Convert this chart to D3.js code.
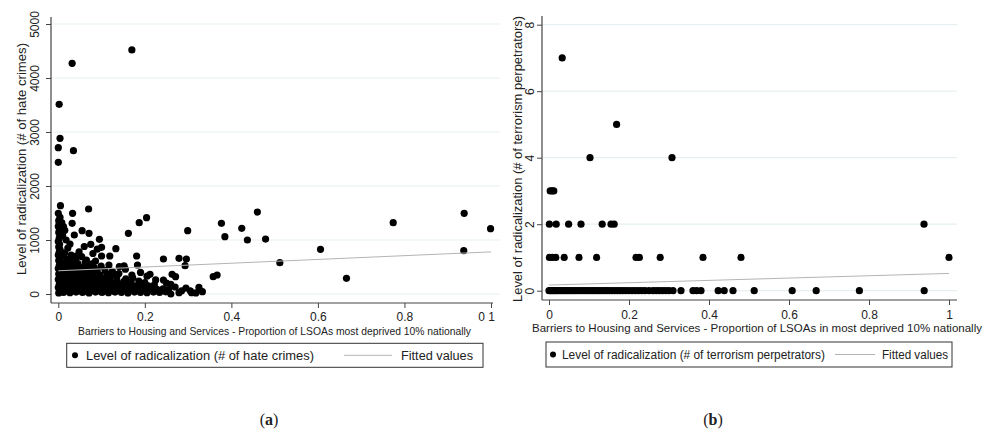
<!DOCTYPE html>
<html><head><meta charset="utf-8">
<script src="https://cdn.jsdelivr.net/npm/d3@7/dist/d3.min.js"></script>
<style>
body{margin:0;background:#fff}
svg{display:block}
text{font-family:"Liberation Sans",Arial,sans-serif;fill:#222}
</style></head>
<body><svg id="c" width="1003" height="443"></svg>
<script>
// ---------- DATA ----------
// Panel (a): [proportion of LSOAs most deprived, # hate crimes]
const hatePoints = [
 [0.002,3513],[0.032,4272],[0.17,4519],[0.004,2883],[0.0,2709],[0.035,2654],[0.0,2439],
 [0.005,1636],[0.0,1494],[0.033,1494],[0.07,1574],[0.032,1309],[0.055,1173],[0.071,1124],
 [0.095,1013],[0.037,1093],[0.1,865],[0.133,839],[0.162,1124],[0.187,1320],[0.204,1413],
 [0.299,1173],[0.075,920],[0.027,926],[0.054,691],[0.042,704],[0.086,611],[0.119,704],
 [0.1,704],[0.117,537],[0.181,704],[0.183,537],[0.243,648],[0.279,661],[0.296,648],
 [0.293,524],[0.141,506],[0.152,519],[0.212,364],[0.263,364],[0.271,321],[0.243,259],
 [0.26,180],[0.26,0],[0.279,25],[0.308,25],[0.325,124],[0.333,43],[0.358,320],[0.367,352],
 [0.377,1309],[0.385,1061],[0.424,1216],[0.437,1000],[0.46,1518],[0.479,1018],[0.512,580],
 [0.606,828],[0.666,290],[0.774,1320],[0.938,1494],[0.937,802],[0.999,1209],
 [0.001,20],[0.003,70],[0.0,120],[0.002,170],[0.004,220],[0.0,270],[0.003,320],[0.001,370],
 [0.004,420],[0.0,470],[0.002,520],[0.004,570],[0.001,620],[0.003,670],[0.0,720],[0.002,770],
 [0.004,820],[0.001,870],[0.003,920],[0.0,970],[0.002,1030],[0.004,1080],[0.001,1140],
 [0.003,1190],[0.0,1250],[0.002,1310],[0.001,1360],[0.004,1420],
 [0.012,1250],[0.015,1180],[0.01,1080],[0.018,1000],[0.008,1320],[0.009,1150],
 [0.012,30],[0.027,25],[0.041,35],[0.056,30],[0.071,20],[0.086,35],[0.101,30],[0.116,25],
 [0.131,35],[0.146,30],[0.161,20],[0.176,35],[0.19,30],[0.205,25],[0.22,35],[0.234,30],[0.248,40],
 [0.018,95],[0.033,100],[0.048,90],[0.063,95],[0.078,100],[0.093,90],[0.108,95],[0.123,100],
 [0.138,90],[0.153,95],[0.168,100],[0.183,90],[0.198,95],[0.213,105],[0.228,85],[0.242,95],
 [0.011,160],[0.026,165],[0.04,155],[0.055,160],[0.07,165],[0.085,155],[0.1,160],[0.115,165],
 [0.13,155],[0.145,160],[0.16,170],[0.175,150],[0.19,165],[0.208,150],[0.222,170],
 [0.016,225],[0.031,230],[0.046,220],[0.061,225],[0.076,230],[0.091,220],[0.106,225],
 [0.121,235],[0.136,215],[0.151,230],[0.168,220],[0.186,240],[0.2,210],
 [0.012,290],[0.027,295],[0.042,285],[0.057,290],[0.072,300],[0.087,285],[0.102,295],
 [0.118,290],[0.135,300],[0.156,280],[0.172,300],
 [0.018,360],[0.033,365],[0.048,355],[0.064,360],[0.08,370],[0.096,350],[0.113,365],[0.128,355],
 [0.011,430],[0.026,435],[0.041,425],[0.058,430],[0.074,440],[0.09,420],[0.108,435],
 [0.017,500],[0.032,505],[0.05,495],[0.066,510],[0.083,490],[0.099,515],
 [0.012,570],[0.028,575],[0.045,565],[0.062,580],[0.078,560],
 [0.02,640],[0.038,650],[0.065,630],[0.01,700],[0.03,720],
 [0.015,760],[0.048,780],[0.08,750],
 [0.022,850],[0.06,880],[0.09,830],
 [0.125,420],[0.14,380],[0.155,460],[0.17,350],[0.19,400],[0.205,330],[0.225,260],[0.25,200],
 [0.255,80],[0.27,130],[0.285,60],[0.295,110],[0.305,60],[0.318,20],
 [0.008,60],[0.022,60],[0.036,65],[0.05,60],[0.064,55],[0.08,65],[0.094,60],[0.11,60],[0.125,65],
 [0.008,195],[0.022,195],[0.036,190],[0.05,200],[0.064,195],[0.08,190],[0.094,200],
 [0.008,330],[0.022,325],[0.036,330],[0.05,325],[0.066,335],
 [0.006,540],[0.022,470],[0.036,470],[0.054,465],[0.04,610],[0.024,610]
];
const hateFit = [[0,430],[1,780]];

// Panel (b): [proportion, # terrorism perpetrators]
const terrPoints = [
 [0.033,7],[0.169,5],[0.1025,4],[0.3075,4],
 [0.003,3],[0.008,3],[0.012,3],
 [0.001,2],[0.018,2],[0.049,2],[0.08,2],[0.133,2],[0.155,2],[0.163,2],[0.9375,2],
 [0.001,1],[0.008,1],[0.017,1],[0.038,1],[0.075,1],[0.119,1],[0.2175,1],[0.226,1],
 [0.278,1],[0.385,1],[0.48,1],[1.0,1],
 [0,0],[0.004,0],[0.008,0],[0.012,0],[0.016,0],[0.02,0],[0.025,0],[0.03,0],[0.035,0],
 [0.04,0],[0.045,0],[0.05,0],[0.055,0],[0.06,0],[0.066,0],[0.072,0],[0.078,0],[0.084,0],
 [0.09,0],[0.096,0],[0.102,0],[0.108,0],[0.114,0],[0.12,0],[0.126,0],[0.132,0],[0.138,0],
 [0.144,0],[0.15,0],[0.157,0],[0.164,0],[0.171,0],[0.178,0],[0.185,0],[0.192,0],[0.2,0],
 [0.208,0],[0.216,0],[0.224,0],[0.232,0],[0.24,0],[0.25,0],[0.26,0],[0.268,0],[0.276,0],
 [0.284,0],[0.292,0],[0.3,0],[0.31,0],[0.33,0],[0.36,0],[0.369,0],[0.38,0],[0.423,0],
 [0.438,0],[0.46,0],[0.513,0],[0.608,0],[0.668,0],[0.776,0],[0.938,0]
];
const terrFit = [[0,0.17],[1,0.52]];

const xTicks = [0,0.2,0.4,0.6,0.8,1];
const xTickLabelsA = ["0","0.2","0.4","0.6","0.8","0 1"];
const xTickLabelsB = ["0","0.2","0.4","0.6","0.8","1"];
const yTicksA = [0,1000,2000,3000,4000,5000];
const yTicksB = [0,2,4,6,8];

// ---------- DRAW ----------
const svg = d3.select("#c");
const FONT = "'Liberation Sans',Arial,sans-serif";

function panel(o){
  const g = svg.append("g");
  const x = d3.scaleLinear().domain([0,1]).range([o.x0,o.x1]);
  const y = d3.scaleLinear().domain([0,o.yMax]).range([o.y0,o.yTop]);
  // grid
  g.selectAll("line.grid").data(o.yTicks).join("line")
    .attr("x1",o.axisX).attr("x2",o.gridRight)
    .attr("y1",d=>y(d)).attr("y2",d=>y(d))
    .attr("stroke","#e6eff2").attr("stroke-width",1.2);
  // y axis
  const ya = g.append("g").attr("transform",`translate(${o.axisX},0)`)
    .call(d3.axisLeft(y).tickValues(o.yTicks).tickSize(5).tickSizeOuter(0).tickFormat(d=>String(d)));
  ya.attr("font-family",FONT);
  ya.select(".domain").remove();
  ya.selectAll(".tick line").attr("stroke","#444");
  ya.selectAll(".tick text").attr("transform","rotate(-90)")
    .attr("x",0).attr("y",-o.yLabDist).attr("dy","0.35em")
    .style("text-anchor","middle").style("font-size","12px")
    .style("font-family",FONT).attr("fill","#222");
  g.append("line").attr("x1",o.axisX).attr("x2",o.axisX).attr("y1",o.axisTop).attr("y2",o.axisY)
    .attr("stroke","#444").attr("stroke-width",1.2);
  // x axis
  const xa = g.append("g").attr("transform",`translate(0,${o.axisY})`)
    .call(d3.axisBottom(x).tickValues(xTicks).tickSize(5).tickSizeOuter(0)
      .tickFormat((d,i)=>o.xLabels[i]));
  xa.attr("font-family",FONT);
  xa.select(".domain").remove();
  xa.selectAll(".tick line").attr("stroke","#444");
  xa.selectAll(".tick text").attr("y",o.xLabDist).attr("dy","0.35em")
    .attr("dx",(d,i)=>o.xLabels[i]==="0 1"?-5:0)
    .style("font-size","12px").style("font-family",FONT).attr("fill","#222");
  g.append("line").attr("x1",o.axisX).attr("x2",o.xAxisRight).attr("y1",o.axisY).attr("y2",o.axisY)
    .attr("stroke","#444").attr("stroke-width",1.2);
  // points
  g.selectAll("circle.pt").data(o.points).join("circle")
    .attr("cx",d=>x(d[0])).attr("cy",d=>y(d[1])).attr("r",3.6).attr("fill","#000");
  // fitted
  g.append("path").datum(o.fit)
    .attr("d",d3.line().x(d=>x(d[0])).y(d=>y(d[1])))
    .attr("fill","none").attr("stroke","#b4b4b4").attr("stroke-width",1);
  // y title
  g.append("text").attr("transform",`translate(${o.yTitleX},${o.yTitleY}) rotate(-90)`)
    .attr("text-anchor","middle").attr("dy","0.35em")
    .style("font-size","12.5px").attr("textLength",o.yTitleLen).attr("lengthAdjust","spacingAndGlyphs")
    .text(o.yTitle);
  // x title
  g.append("text").attr("x",o.xTitleX).attr("y",o.xTitleY).attr("dy","0.35em")
    .attr("text-anchor","middle").style("font-size",o.xTitleSize+"px")
    .attr("textLength",o.xTitleLen).attr("lengthAdjust","spacingAndGlyphs")
    .text(o.xTitle);
  // legend
  const L = o.legend;
  g.append("rect").attr("x",L.x).attr("y",L.y).attr("width",L.w).attr("height",L.h)
    .attr("fill","#fff").attr("stroke","#333").attr("stroke-width",1);
  const cy = L.y + L.h/2;
  g.append("circle").attr("cx",L.dotX).attr("cy",cy).attr("r",3).attr("fill","#000");
  g.append("text").attr("x",L.t1x).attr("y",cy).attr("dy","0.35em").style("font-size","12.5px")
    .attr("textLength",L.t1len).attr("lengthAdjust","spacingAndGlyphs").text(L.t1);
  g.append("line").attr("x1",L.l1).attr("x2",L.l2).attr("y1",cy).attr("y2",cy)
    .attr("stroke","#b4b4b4").attr("stroke-width",1);
  g.append("text").attr("x",L.t2x).attr("y",cy).attr("dy","0.35em").style("font-size","12.5px")
    .attr("textLength",L.t2len).attr("lengthAdjust","spacingAndGlyphs").text("Fitted values");
}

panel({
  points:hatePoints, fit:hateFit, yMax:5000, yTicks:yTicksA, xLabels:xTickLabelsA,
  x0:58.3, x1:491, y0:294, yTop:24, axisX:51, axisTop:17, axisY:303, xAxisRight:493, gridRight:500,
  yLabDist:16, xLabDist:13.7,
  yTitle:"Level of radicalization (# of hate crimes)", yTitleX:21.5, yTitleY:159, yTitleLen:232,
  xTitle:"Barriers to Housing and Services - Proportion of LSOAs most deprived 10% nationally",
  xTitleX:274.5, xTitleY:331, xTitleLen:393, xTitleSize:10.5,
  legend:{x:66.7,y:343.3,w:416.3,h:24,dotX:75,t1x:86,t1len:228,
    t1:"Level of radicalization (# of hate crimes)", l1:344,l2:392,t2x:401,t2len:72}
});

panel({
  points:terrPoints, fit:terrFit, yMax:8, yTicks:yTicksB, xLabels:xTickLabelsB,
  x0:549, x1:949, y0:290.7, yTop:24.7, axisX:542, axisTop:16, axisY:300, xAxisRight:957, gridRight:957,
  yLabDist:12, xLabDist:14.3,
  yTitle:"Level of radicalization (# of terrorism perpetrators)", yTitleX:517.5, yTitleY:159, yTitleLen:286,
  xTitle:"Barriers to Housing and Services - Proportion of LSOAs in most deprived 10% nationally",
  xTitleX:757, xTitleY:328, xTitleLen:450, xTitleSize:11.5,
  legend:{x:546,y:342,w:406,h:25,dotX:553,t1x:562,t1len:263,
    t1:"Level of radicalization (# of terrorism perpetrators)", l1:835,l2:875,t2x:882,t2len:66}
});

// captions
function caption(cx, letter){
  const t = svg.append("text").attr("x",cx).attr("y",425).attr("text-anchor","middle")
    .style("font-family","'Liberation Serif','Times New Roman',serif").style("font-size","16px").attr("fill","#000");
  t.append("tspan").text("(");
  t.append("tspan").style("font-weight","bold").text(letter);
  t.append("tspan").text(")");
}
caption(269,"a");
caption(713,"b");
</script></body></html>
